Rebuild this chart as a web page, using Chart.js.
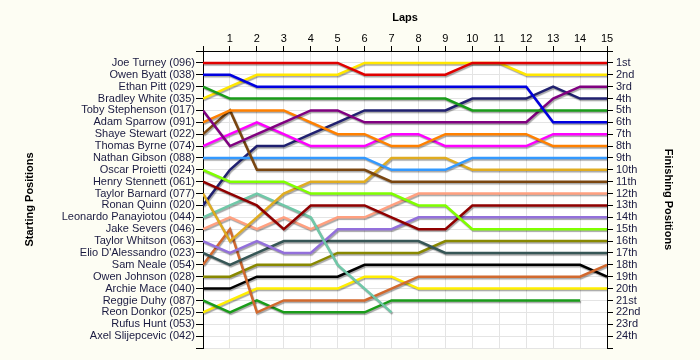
<!DOCTYPE html>
<html>
<head>
<meta charset="utf-8">
<title>Lap chart</title>
<script src="https://cdn.jsdelivr.net/npm/chart.js@4.4.0/dist/chart.umd.min.js"></script>
<style>
  html, body { margin: 0; padding: 0; background: #fdfdf3; }
  #wrap { width: 700px; height: 360px; }
</style>
</head>
<body>
<div id="wrap"><canvas id="lapChart" width="700" height="360"></canvas></div>
<script>
// Vueltas (0 = parrilla de salida)
const laps = [0, 1, 2, 3, 4, 5, 6, 7, 8, 9, 10, 11, 12, 13, 14, 15];

// Orden de salida (eje izquierdo)
const startNames = [
  'Joe Turney (096)', 'Owen Byatt (038)', 'Ethan Pitt (029)', 'Bradley White (035)',
  'Toby Stephenson (017)', 'Adam Sparrow (091)', 'Shaye Stewart (022)', 'Thomas Byrne (074)',
  'Nathan Gibson (088)', 'Oscar Proietti (024)', 'Henry Stennett (061)', 'Taylor Barnard (077)',
  'Ronan Quinn (020)', 'Leonardo Panayiotou (044)', 'Jake Severs (046)', 'Taylor Whitson (063)',
  "Elio D'Alessandro (023)", 'Sam Neale (054)', 'Owen Johnson (028)', 'Archie Mace (040)',
  'Reggie Duhy (087)', 'Reon Donkor (025)', 'Rufus Hunt (053)', 'Axel Slijepcevic (042)'
];

// Posiciones finales (eje derecho)
const finishLabels = [
  '1st', '2nd', '3rd', '4th', '5th', '6th', '7th', '8th', '9th', '10th', '11th', '12th',
  '13th', '14th', '15th', '16th', '17th', '18th', '19th', '20th', '21st', '22nd', '23rd', '24th'
];

// Posicion de cada piloto en cada vuelta (null = retirado)
const joeTurney     = [1, 1, 1, 1, 1, 1, 2, 2, 2, 2, 1, 1, 1, 1, 1, 1];
const owenByatt     = [2, 2, 3, 3, 3, 3, 3, 3, 3, 3, 3, 3, 3, 6, 6, 6];
const ethanPitt     = [3, 4, 4, 4, 4, 4, 4, 4, 4, 4, 5, 5, 5, 5, 5, 5];
const bradleyWhite  = [4, 3, 2, 2, 2, 2, 1, 1, 1, 1, 1, 1, 2, 2, 2, 2];
const tobyStephenson = [5, 8, 7, 6, 5, 5, 6, 6, 6, 6, 6, 6, 6, 4, 3, 3];
const adamSparrow   = [6, 5, 5, 5, 6, 7, 7, 8, 8, 7, 7, 7, 7, 8, 8, 8];
const shayeStewart  = [7, 5, 10, 10, 10, 10, 10, 11, 11, 11, 11, 11, 11, 11, 11, 11];
const thomasByrne   = [8, 7, 6, 7, 8, 8, 8, 7, 7, 8, 8, 8, 8, 7, 7, 7];
const nathanGibson  = [9, 9, 9, 9, 9, 9, 9, 10, 10, 10, 9, 9, 9, 9, 9, 9];
const oscarProietti = [10, 11, 11, 11, 12, 12, 12, 12, 13, 13, 15, 15, 15, 15, 15, 15];
const henryStennett = [11, 12, 13, 15, 13, 13, 13, 14, 15, 15, 13, 13, 13, 13, 13, 13];
const taylorBarnard = [12, 16, 14, 12, 11, 11, 11, 9, 9, 9, 10, 10, 10, 10, 10, 10];
const ronanQuinn    = [13, 10, 8, 8, 7, 6, 5, 5, 5, 5, 4, 4, 4, 3, 4, 4];
const leonardoPanayiotou = [14, 13, 12, 13, 14, 18, 20, 22, null, null, null, null, null, null, null, null];
const jakeSevers    = [15, 14, 15, 14, 15, 14, 14, 13, 12, 12, 12, 12, 12, 12, 12, 12];
const taylorWhitson = [16, 17, 16, 17, 17, 15, 15, 15, 14, 14, 14, 14, 14, 14, 14, 14];
const elioDAlessandro = [17, 18, 17, 16, 16, 16, 16, 16, 16, 17, 17, 17, 17, 17, 17, 17];
const samNeale      = [18, 15, 22, 21, 21, 21, 21, 20, 19, 19, 19, 19, 19, 19, 19, 18];
const owenJohnson   = [19, 19, 18, 18, 18, 17, 17, 17, 17, 16, 16, 16, 16, 16, 16, 16];
const archieMace    = [20, 20, 19, 19, 19, 19, 18, 18, 18, 18, 18, 18, 18, 18, 18, 19];
const reggieDuhy    = [21, 22, 21, 22, 22, 22, 22, 21, 21, 21, 21, 21, 21, 21, 21, null];
const reonDonkor    = [22, 21, 20, 20, 20, 20, 19, 19, 20, 20, 20, 20, 20, 20, 20, 20];

const driverSeries = [
  joeTurney, owenByatt, ethanPitt, bradleyWhite, tobyStephenson, adamSparrow,
  shayeStewart, thomasByrne, nathanGibson, oscarProietti, henryStennett, taylorBarnard,
  ronanQuinn, leonardoPanayiotou, jakeSevers, taylorWhitson, elioDAlessandro, samNeale,
  owenJohnson, archieMace, reggieDuhy, reonDonkor
];

const lineColors = [
  '#e00000', '#0000e0', '#1a9c1a', '#ffe600', '#800080', '#ff8000',
  '#7a4610', '#ff00ff', '#3399ff', '#80ff00', '#900000', '#e0ac20',
  '#202070', '#70c8a8', '#ffa080', '#9370db', '#365656', '#d2692e',
  '#888800', '#000000', '#1a9c1a', '#ffee00'
];

const CREAM = '#fdfdf3';

// Fondo crema y area de trazado blanca
const fondoPlugin = {
  id: 'fondo',
  beforeDraw(chart) {
    const { ctx, chartArea } = chart;
    ctx.save();
    ctx.fillStyle = CREAM;
    ctx.fillRect(0, 0, chart.width, chart.height);
    ctx.fillStyle = '#ffffff';
    ctx.fillRect(chartArea.left, chartArea.top, chartArea.right - chartArea.left, chartArea.bottom - chartArea.top);
    ctx.restore();
  }
};

// Sombra gris bajo cada linea
const sombraPlugin = {
  id: 'sombra',
  beforeDatasetDraw(chart) {
    const ctx = chart.ctx;
    ctx.save();
    ctx.shadowColor = 'rgba(0,0,0,0.35)';
    ctx.shadowOffsetX = 1;
    ctx.shadowOffsetY = 1.5;
    ctx.shadowBlur = 1;
  },
  afterDatasetDraw(chart) {
    chart.ctx.restore();
  }
};

const datasets = driverSeries.map((serie, i) => ({
  label: startNames[i],
  data: serie,
  borderColor: lineColors[i],
  borderWidth: 2.5,
  pointRadius: 0,
  pointHoverRadius: 0,
  tension: 0,
  fill: false,
  spanGaps: false
}));

const textFont = { family: "'Liberation Sans', Arial, sans-serif", size: 11 };
const titleFont = { family: "'Liberation Sans', Arial, sans-serif", size: 11, weight: 'bold' };

new Chart(document.getElementById('lapChart'), {
  type: 'line',
  data: { labels: laps, datasets },
  options: {
    responsive: false,
    animation: false,
    events: [],
    layout: { padding: { left: 19, right: 21, top: 7, bottom: 12 } },
    plugins: {
      legend: { display: false },
      tooltip: { enabled: false }
    },
    scales: {
      x: {
        type: 'linear',
        position: 'top',
        min: 0,
        max: 15,
        afterFit(scale) { scale.height = 44; },
        ticks: {
          stepSize: 1,
          color: '#000',
          font: textFont,
          padding: 0,
          maxRotation: 0,
          callback: v => (v === 0 ? '' : v)
        },
        grid: { color: '#e4e4e4', tickColor: '#000', tickLength: 5, lineWidth: 1 },
        border: { color: '#000', width: 1 },
        title: { display: true, text: 'Laps', color: '#000', font: titleFont, padding: { top: 4, bottom: 4 } }
      },
      y: {
        type: 'linear',
        position: 'left',
        reverse: true,
        min: 0,
        max: 25,
        afterFit(scale) { scale.width = 184; },
        ticks: {
          stepSize: 1,
          autoSkip: false,
          color: '#1a1a40',
          font: textFont,
          padding: 1,
          callback: v => startNames[v - 1] || ''
        },
        grid: { color: '#e4e4e4', tickColor: '#000', tickLength: 7, lineWidth: 1 },
        border: { color: '#000', width: 1 },
        title: { display: true, text: 'Starting Positions', color: '#000', font: titleFont, padding: { top: 4, bottom: 4 } }
      },
      y2: {
        type: 'linear',
        position: 'right',
        reverse: true,
        min: 0,
        max: 25,
        afterFit(scale) { scale.width = 72; },
        ticks: {
          stepSize: 1,
          autoSkip: false,
          color: '#1a1a40',
          font: textFont,
          padding: 3,
          callback: v => finishLabels[v - 1] || ''
        },
        grid: { drawOnChartArea: false, tickColor: '#000', tickLength: 6 },
        border: { color: '#000', width: 1 },
        title: { display: true, text: 'Finishing Positions', color: '#000', font: titleFont, padding: { top: 4, bottom: 4 } }
      }
    }
  },
  plugins: [fondoPlugin, sombraPlugin]
});
</script>
</body>
</html>
